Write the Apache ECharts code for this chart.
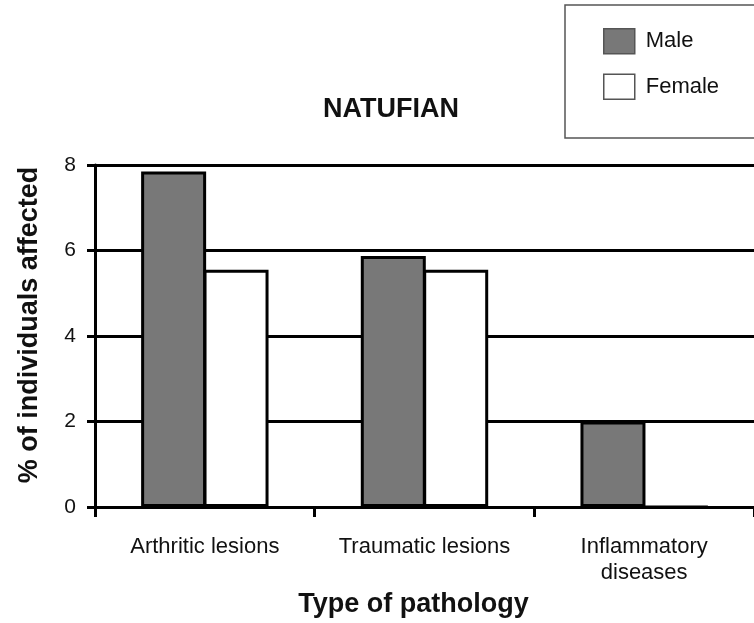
<!DOCTYPE html>
<html>
<head>
<meta charset="utf-8">
<script src="https://cdn.jsdelivr.net/npm/echarts@6/dist/echarts.min.js"></script>
<style>
html,body{margin:0;padding:0;background:#fff;}
#chart{width:754px;height:623px;}
</style>
</head>
<body>
<div id="chart"></div>
<script>
const categories = ['Arthritic lesions', 'Traumatic lesions', 'Inflammatory\ndiseases'];
const maleValues = [7.85, 5.87, 2.0];
const femaleValues = [5.55, 5.55, 0];
const yTicks = { min: 0, max: 8, interval: 2 };

const FONT = '"Liberation Sans", Arial, sans-serif';
const chart = echarts.init(document.getElementById('chart'));
chart.setOption({
  backgroundColor: '#ffffff',
  animation: false,
  title: {
    text: 'NATUFIAN',
    left: 318,
    top: 91,
    textStyle: { fontFamily: FONT, fontSize: 27, fontWeight: 'bold', color: '#111' }
  },
  legend: {
    orient: 'vertical',
    left: 565,
    top: 5,
    padding: [23, 40, 38, 38],
    itemWidth: 31,
    itemHeight: 25,
    itemGap: 19,
    borderColor: '#555',
    borderWidth: 1.5,
    icon: 'rect',
    itemStyle: { borderColor: '#555', borderWidth: 1.5 },
    textStyle: { fontFamily: FONT, fontSize: 22, color: '#111', padding: [0, 0, 0, 6] },
    data: ['Male', 'Female']
  },
  grid: { left: 95, top: 165, bottom: 115, width: 663, containLabel: false },
  xAxis: {
    type: 'category',
    data: categories,
    name: 'Type of pathology',
    nameLocation: 'middle',
    nameGap: 82,
    nameTextStyle: { fontFamily: FONT, fontSize: 27, fontWeight: 'bold', color: '#111', padding: [0, 22, 0, 0] },
    axisLine: { lineStyle: { color: '#000', width: 3 } },
    axisTick: { show: true, interval: 0, length: 10, alignWithLabel: false, lineStyle: { color: '#000', width: 3 } },
    axisLabel: { interval: 0, hideOverlap: false, fontFamily: FONT, fontSize: 22, color: '#111', margin: 27, lineHeight: 26 },
    splitLine: { show: false }
  },
  yAxis: {
    type: 'value',
    min: yTicks.min,
    max: yTicks.max,
    interval: yTicks.interval,
    name: '% of individuals affected',
    nameLocation: 'middle',
    nameGap: 52,
    nameTextStyle: { fontFamily: FONT, fontSize: 27, fontWeight: 'bold', color: '#111', padding: [0, 0, 0, 22] },
    axisLine: { show: true, lineStyle: { color: '#000', width: 3 } },
    axisTick: { show: true, length: 8, lineStyle: { color: '#000', width: 3 } },
    axisLabel: { fontFamily: FONT, fontSize: 21, color: '#111', margin: 19 },
    splitLine: { show: true, lineStyle: { color: '#000', width: 3 } }
  },
  series: [
    {
      name: 'Male',
      type: 'bar',
      data: maleValues,
      barGap: '-4%',
      barCategoryGap: '42%',
      itemStyle: { color: '#787878', borderColor: '#000', borderWidth: 3 }
    },
    {
      name: 'Female',
      type: 'bar',
      data: femaleValues,
      itemStyle: { color: '#ffffff', borderColor: '#000', borderWidth: 3 }
    }
  ]
});
</script>
</body>
</html>
